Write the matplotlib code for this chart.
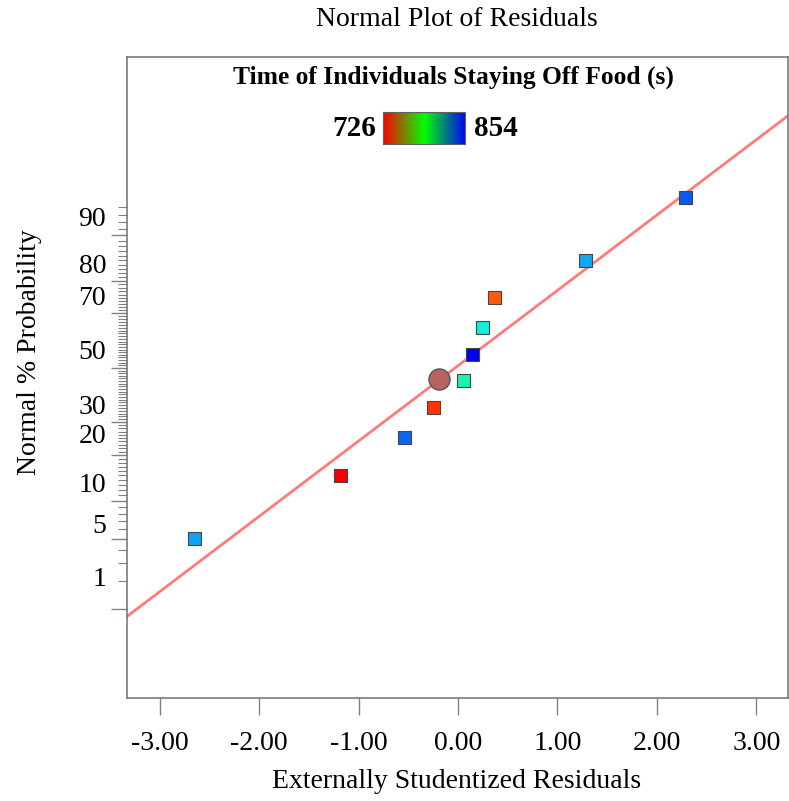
import math
from statistics import NormalDist

import numpy as np
import matplotlib
matplotlib.use("Agg")
import matplotlib.pyplot as plt
from matplotlib.colors import LinearSegmentedColormap
from matplotlib.transforms import blended_transform_factory, ScaledTranslation

# externally studentized residuals and their normal % probability
RESIDUALS = [-2.65, -1.185, -0.54, -0.25, 0.06, 0.15, 0.25, 0.365, 1.285, 2.285]
PROBABILITY = [5, 15, 25, 35, 45, 55, 65, 75, 85, 95]
POINT_COLORS = ["#0BA4F4", "#F50000", "#0A66F0", "#FF3300", "#1AF5B0",
                "#0000EE", "#10F0DC", "#FF5A10", "#12A8F0", "#0A5AF5"]

# selected run, drawn as a circle
SEL_RESIDUAL = -0.19
SEL_PROBABILITY = 45.7

# reference line in normal-score units: z = a + b * residual
LINE_INTERCEPT = 0.021
LINE_SLOPE = 0.726

YTICKS = [1, 5, 10, 20, 30, 50, 70, 80, 90]
YMINOR = [2, 3, 4, 6, 7, 8, 9] + list(range(11, 20)) + list(range(21, 30)) \
    + list(range(31, 50)) + list(range(51, 70)) + list(range(71, 80)) \
    + list(range(81, 90)) + [91, 92, 93, 94]
# how far (px) each y label sits above its tick
YLABEL_SHIFT = [30, 12, 15, 19, 15, 15, 15, 14, 15]
XTICKS = [-3, -2, -1, 0, 1, 2, 3]

RESPONSE_MIN, RESPONSE_MAX = 726, 854

_nd = NormalDist()


def pct_to_z(p):
    p = np.clip(np.asarray(p, dtype=float), 1e-7, 100 - 1e-7)
    return np.vectorize(lambda v: _nd.inv_cdf(v / 100.0), otypes=[float])(p)


def z_to_pct(z):
    z = np.asarray(z, dtype=float)
    return np.vectorize(lambda v: 50.0 * (1.0 + math.erf(v / math.sqrt(2))), otypes=[float])(z)


plt.rcParams["font.family"] = ["Liberation Serif", "DejaVu Serif"]

W, H = 789, 801
fig = plt.figure(figsize=(W / 100, H / 100), dpi=100)
ax = fig.add_axes([127 / W, 1 - 698 / H, 661 / W, 641 / H])
ax.set_yscale("function", functions=(pct_to_z, z_to_pct))

xlim = (-3.327, 3.317)
ax.set_xlim(*xlim)
ax.set_ylim(float(z_to_pct(-3.18)), float(z_to_pct(2.995)))

# reference line
xs = np.linspace(xlim[0], xlim[1], 50)
ax.plot(xs, z_to_pct(LINE_INTERCEPT + LINE_SLOPE * xs), color="#FF7B7B", lw=2.0, zorder=2)

ax.scatter(RESIDUALS, PROBABILITY, marker="s", s=88, c=POINT_COLORS,
           edgecolors="#454545", linewidths=0.8, zorder=3)
ax.scatter([SEL_RESIDUAL], [SEL_PROBABILITY], marker="o", s=230, c="#B86262",
           edgecolors="#555555", linewidths=1.0, zorder=4)

for sp in ax.spines.values():
    sp.set_color("#707070")
    sp.set_linewidth(1.1)

ax.set_xticks(XTICKS)
ax.set_xticklabels(["{:.2f}".format(v) for v in XTICKS])
ax.tick_params(axis="x", direction="out", length=12, width=1.0, color="#808080",
               labelsize=20, pad=11.5)

ax.set_yticks(YTICKS)
ax.set_yticks(YMINOR, minor=True)
ax.set_yticklabels([])
ax.tick_params(axis="y", which="major", direction="out", length=11.5, width=1.0, color="#808080")
ax.tick_params(axis="y", which="minor", direction="out", length=6.5, width=0.8, color="#808080")
trans = blended_transform_factory(ax.transAxes, ax.transData)
for val, shift in zip(YTICKS, YLABEL_SHIFT):
    off = ScaledTranslation(-21 / 100, shift / 100, fig.dpi_scale_trans)
    ax.text(0, val, str(val), transform=trans + off, ha="right", va="center", fontsize=20)

fig.text(457 / W, 1 - 19 / H, "Normal Plot of Residuals", ha="center", va="center", fontsize=20)
fig.text(457 / W, 1 - 781 / H, "Externally Studentized Residuals", ha="center", va="center", fontsize=20)
fig.text(30 / W, 1 - 352 / H, "Normal % Probability", ha="center", va="center",
         rotation=90, fontsize=20)

# colour legend for the response
fig.text(453 / W, 1 - 77 / H, "Time of Individuals Staying Off Food (s)", ha="center",
         va="center", fontsize=18.4, fontweight="bold")
cmap = LinearSegmentedColormap.from_list("rgb", ["#FF0000", "#00FF00", "#0000FF"])
cax = fig.add_axes([383 / W, 1 - 144 / H, 82 / W, 32 / H])
cax.imshow(np.linspace(0, 1, 256)[None, :], cmap=cmap, aspect="auto")
cax.set_xticks([])
cax.set_yticks([])
for sp in cax.spines.values():
    sp.set_color("#606060")
fig.text(376 / W, 1 - 129 / H, str(RESPONSE_MIN), ha="right", va="center",
         fontsize=21, fontweight="bold")
fig.text(474 / W, 1 - 129 / H, str(RESPONSE_MAX), ha="left", va="center",
         fontsize=21, fontweight="bold")

fig.savefig("out.png", dpi=100)
